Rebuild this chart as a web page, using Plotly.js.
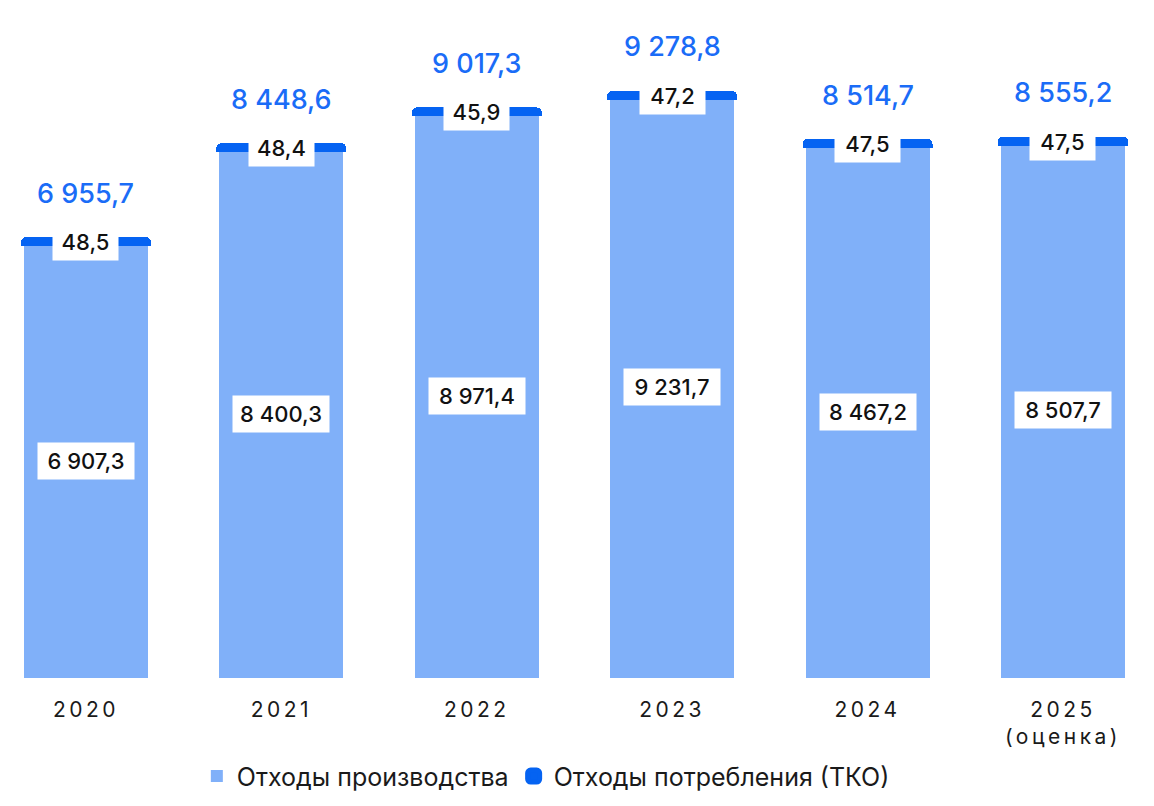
<!DOCTYPE html>
<html>
<head>
<meta charset="utf-8">
<script src="https://cdn.plot.ly/plotly-3.0.1.min.js"></script>
<style>
  html, body { margin: 0; padding: 0; background: #fff; }
  #chart { width: 1154px; height: 806px; }
  .xtick text { letter-spacing: 3.5px; }
</style>
</head>
<body>
<div id="chart"></div>
<script>
// data
var years = ['2020', '2021', '2022', '2023', '2024', '2025<br>(оценка)'];
var production = [6907.3, 8400.3, 8971.4, 9231.7, 8467.2, 8507.7];
var household = [48.5, 48.4, 45.9, 47.2, 47.5, 47.5];
var totals = [6955.7, 8448.6, 9017.3, 9278.8, 8514.7, 8555.2];

var lightBlue = '#80b0f9';
var darkBlue = '#0563f2';
var font = 'Inter, "Open Sans", sans-serif';

// "8 448,6"
function fmt(v) {
  var s = v.toFixed(1).split('.');
  var intPart = s[0].replace(/\B(?=(\d{3})+(?!\d))/g, ' ');
  return intPart + ',' + s[1];
}

var prodTrace = {
  x: years,
  y: production,
  type: 'bar',
  name: 'Отходы производства',
  marker: { color: lightBlue },
  hoverinfo: 'skip'
};

var tkoTrace = {
  x: years,
  y: household,
  type: 'bar',
  name: 'Отходы потребления (ТКО)',
  marker: { color: darkBlue, line: { color: darkBlue, width: 6 }, cornerradius: 2 },
  hoverinfo: 'skip'
};

// category index is used for x, year strings would be read as numbers
var annotations = [];
for (var i = 0; i < years.length; i++) {
  // total above bar
  annotations.push({
    x: i, y: totals[i], yanchor: 'middle', yshift: 47,
    text: fmt(totals[i]), showarrow: false,
    font: { family: font, size: 27, color: '#1a6cf7', weight: 500 }
  });
  // household waste label on the thin band
  annotations.push({
    x: i, y: totals[i], yanchor: 'middle', yshift: -2,
    text: fmt(household[i]), showarrow: false,
    bgcolor: '#ffffff', borderpad: 5, width: 55,
    font: { family: font, size: 22, color: '#111', weight: 500 }
  });
  // production label in the middle of the bar
  annotations.push({
    x: i, y: production[i] / 2, yanchor: 'middle',
    text: fmt(production[i]), showarrow: false,
    bgcolor: '#ffffff', borderpad: 5, width: 86,
    font: { family: font, size: 22, color: '#111', weight: 500 }
  });
}

var layout = {
  width: 1154,
  height: 806,
  margin: { l: 0, r: 0, t: 0, b: 128 },
  paper_bgcolor: '#fff',
  plot_bgcolor: '#fff',
  barmode: 'stack',
  bargap: 0.365,
  showlegend: true,
  legend: {
    orientation: 'h', x: 0.473, xanchor: 'center', y: -0.145, yanchor: 'middle',
    font: { family: font, size: 25, color: '#1a1a1a' },
    itemwidth: 30, traceorder: 'normal'
  },
  xaxis: {
    type: 'category',
    range: [-0.44, 5.466],
    showgrid: false, zeroline: false, showline: false,
    ticks: '',
    ticklabelstandoff: 17,
    tickfont: { family: font, size: 21, color: '#1a1a1a' }
  },
  yaxis: {
    range: [0, 10772],
    visible: false, showgrid: false, zeroline: false
  },
  annotations: annotations
};

Plotly.newPlot('chart', [prodTrace, tkoTrace], layout, { displayModeBar: false, staticPlot: true });
</script>
</body>
</html>
